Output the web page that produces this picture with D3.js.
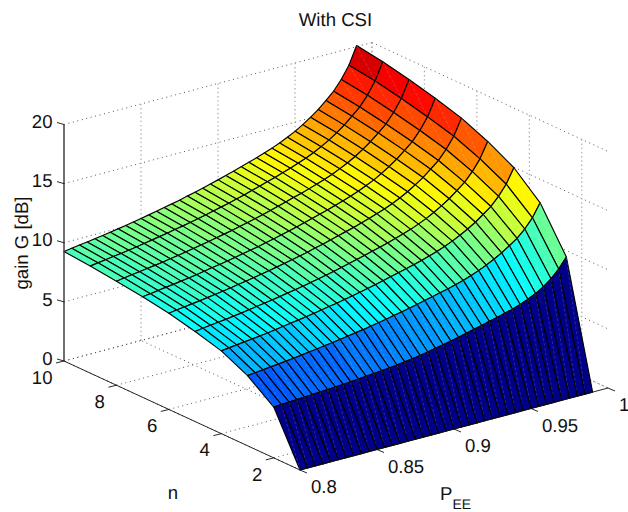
<!DOCTYPE html>
<html>
<head>
<meta charset="utf-8">
<script src="https://d3js.org/d3.v7.min.js"></script>
<style>
  body { margin: 0; background: #fff; }
  text { font-family: "Liberation Sans", Arial, sans-serif; font-size: 18.6px; fill: #111; text-rendering: geometricPrecision; }
  .face { stroke: #000; stroke-width: 1.15; stroke-linejoin: round; }
  .diag { stroke: #fff; stroke-opacity: 0.2; stroke-width: 0.8; stroke-dasharray: 3 2; }
  .grid { fill: none; stroke: #555; stroke-width: 1; stroke-dasharray: 1 3.6; }
  .gridv { fill: none; stroke: #aaa; stroke-width: 1.2; stroke-dasharray: 1.4 2.8; }
  .axis { fill: none; stroke: #111; stroke-width: 0.9; }
</style>
</head>
<body>
<script>
// tick labels
var peeTicks = [0.8, 0.85, 0.9, 0.95, 1];
var nTicks = [2, 4, 6, 8, 10];
var zTicks = [0, 5, 10, 15, 20];

// grid of the surface
var pee = [0.8, 0.805, 0.81, 0.815, 0.82, 0.825, 0.83, 0.835, 0.84, 0.845, 0.85, 0.855, 0.86, 0.865, 0.87, 0.875, 0.88, 0.885, 0.89, 0.895,
           0.9, 0.905, 0.91, 0.915, 0.92, 0.925, 0.93, 0.935, 0.94, 0.945, 0.95, 0.955, 0.96, 0.965, 0.97, 0.975, 0.98, 0.985, 0.99];
var nVals = [1, 2, 3, 4, 5, 6, 7, 8, 9, 10];

// gain in dB, one list per n
var gainN1 = [0,0,0,0,0,0,0,0,0,0,0,0,0,0,0,0,0,0,0,0,0,0,0,0,0,0,0,0,0,0,0,0,0,0,0,0,0,0,0];
var gainN2 = [4.30,4.33,4.37,4.41,4.45,4.49,4.53,4.57,4.61,4.65,4.70,4.76,4.82,4.88,4.94,5.00,5.08,5.17,5.26,5.37,5.49,5.62,5.75,5.89,6.04,6.20,6.36,6.52,6.69,6.85,7.03,7.20,7.43,7.70,8.00,8.40,8.90,9.55,10.40];
var gainN3 = [5.93,6.00,6.07,6.15,6.21,6.29,6.36,6.45,6.54,6.63,6.72,6.81,6.91,7.01,7.12,7.22,7.34,7.46,7.58,7.72,7.85,7.99,8.14,8.29,8.44,8.60,8.76,8.94,9.13,9.36,9.61,9.90,10.23,10.59,11.02,11.47,12.09,12.86,13.96];
var gainN4 = [7.00,7.08,7.16,7.24,7.31,7.40,7.48,7.58,7.68,7.77,7.87,7.98,8.09,8.20,8.32,8.43,8.57,8.70,8.83,8.98,9.13,9.29,9.45,9.62,9.78,9.95,10.14,10.34,10.55,10.80,11.08,11.40,11.76,12.16,12.64,13.14,13.83,14.68,15.90];
var gainN5 = [7.62,7.71,7.79,7.88,7.95,8.05,8.13,8.24,8.34,8.44,8.55,8.66,8.78,8.90,9.02,9.15,9.29,9.43,9.57,9.73,9.89,10.06,10.23,10.41,10.58,10.77,10.97,11.18,11.40,11.67,11.96,12.30,12.69,13.12,13.63,14.16,14.89,15.80,17.10];
var gainN6 = [8.14,8.23,8.32,8.41,8.49,8.59,8.68,8.78,8.89,9.00,9.11,9.23,9.35,9.48,9.61,9.74,9.88,10.03,10.18,10.35,10.51,10.69,10.87,11.05,11.23,11.43,11.64,11.86,12.09,12.37,12.68,13.04,13.44,13.89,14.42,14.98,15.74,16.69,18.05];
var gainN7 = [8.50,8.59,8.68,8.78,8.86,8.96,9.05,9.16,9.28,9.39,9.50,9.62,9.74,9.88,10.01,10.14,10.30,10.45,10.60,10.77,10.94,11.12,11.31,11.50,11.68,11.89,12.10,12.33,12.57,12.86,13.17,13.54,13.96,14.42,14.97,15.54,16.32,17.30,18.70];
var gainN8 = [8.80,8.89,8.99,9.08,9.17,9.27,9.36,9.48,9.59,9.71,9.83,9.95,10.08,10.21,10.35,10.48,10.64,10.80,10.95,11.13,11.30,11.49,11.68,11.88,12.06,12.27,12.49,12.72,12.97,13.27,13.59,13.97,14.40,14.87,15.43,16.02,16.82,17.83,19.26];
var gainN9 = [9.05,9.15,9.24,9.34,9.42,9.53,9.63,9.74,9.86,9.98,10.10,10.23,10.35,10.49,10.63,10.77,10.93,11.09,11.25,11.43,11.60,11.80,11.99,12.19,12.39,12.60,12.82,13.06,13.32,13.61,13.95,14.33,14.77,15.25,15.83,16.43,17.25,18.28,19.74];
var gainN10 = [9.26,9.36,9.46,9.55,9.64,9.75,9.85,9.96,10.08,10.20,10.32,10.45,10.58,10.72,10.86,11.00,11.17,11.33,11.49,11.67,11.85,12.04,12.24,12.44,12.64,12.85,13.08,13.32,13.58,13.89,14.22,14.61,15.06,15.54,16.13,16.74,17.56,18.60,20.09];
var gain = [gainN1, gainN2, gainN3, gainN4, gainN5, gainN6, gainN7, gainN8, gainN9, gainN10];

var width = 628, height = 512;

var svg = d3.select("body").append("svg")
    .attr("width", width)
    .attr("height", height);

// the box is an orthographic view: three scales, one for each edge
var xP = d3.scaleLinear().domain([0.8, 1]).range([0, 308]);
var yP = d3.scaleLinear().domain([0.8, 1]).range([0, -82]);
var xN = d3.scaleLinear().domain([1, 10]).range([0, -236]);
var yN = d3.scaleLinear().domain([1, 10]).range([0, -109]);
var yZ = d3.scaleLinear().domain([0, 20]).range([0, -236.5]);

function project(p, n, z) {
  return [300 + xP(p) + xN(n), 470 + yP(p) + yN(n) + yZ(z)];
}

// jet colormap, 64 levels, as in matlab
var jet = d3.scaleLinear()
    .domain([0, 1/8, 3/8, 5/8, 7/8, 1])
    .range(["#000080", "#0000ff", "#00ffff", "#ffff00", "#ff0000", "#800000"]);
var zMax = d3.max(gain, function(r) { return d3.max(r); });
function faceColor(z) {
  var idx = Math.min(63, Math.floor(z / zMax * 64));
  return jet((idx + 0.5) / 64);
}

var line = d3.line();

function seg(cls, a, b) {
  svg.append("path").attr("class", cls).attr("d", line([a, b]));
}

// grid lines on the two back walls and the floor
zTicks.forEach(function(z) {
  seg("grid", project(0.8, 10, z), project(1, 10, z));
  seg("grid", project(1, 10, z), project(1, 1, z));
});
[0.85, 0.9, 0.95, 1].forEach(function(p) {
  seg("gridv", project(p, 10, 0), project(p, 10, 20));
});
nTicks.forEach(function(n) {
  seg("gridv", project(1, n, 0), project(1, n, 20));
});
peeTicks.forEach(function(p) {
  seg("grid", project(p, 1, 0), project(p, 10, 0));
});
nTicks.forEach(function(n) {
  seg("grid", project(0.8, n, 0), project(1, n, 0));
});

// surface, painted from the far corner to the near one
for (var i = nVals.length - 2; i >= 0; i--) {
  for (var j = pee.length - 2; j >= 0; j--) {
    var c00 = project(pee[j], nVals[i], gain[i][j]);
    var c01 = project(pee[j + 1], nVals[i], gain[i][j + 1]);
    var c11 = project(pee[j + 1], nVals[i + 1], gain[i + 1][j + 1]);
    var c10 = project(pee[j], nVals[i + 1], gain[i + 1][j]);
    svg.append("polygon")
        .attr("class", "face")
        .attr("points", [c00, c01, c11, c10].join(" "))
        .attr("fill", faceColor(gain[i][j]));
    seg("diag", c11, c00);
  }
}

// axes
seg("axis", project(0.8, 10, 0), project(0.8, 1, 0));
seg("axis", project(0.8, 1, 0), project(1, 1, 0));
svg.append("path")
    .attr("d", line([project(0.8, 10, 0), project(0.8, 10, 20)]))
    .attr("fill", "none").attr("stroke", "#333").attr("stroke-width", 1.4);

zTicks.forEach(function(z) {
  var a = project(0.8, 10, z);
  seg("axis", a, [a[0] - 7, a[1] - 2]);
  svg.append("text").attr("x", a[0] - 11.5).attr("y", a[1] - 3).attr("dy", "0.36em")
      .attr("text-anchor", "end").text(z);
});
nTicks.forEach(function(n) {
  var a = project(0.8, n, 0);
  seg("axis", a, [a[0] - 8, a[1] + 2]);
  svg.append("text").attr("x", a[0] - 11.5).attr("y", a[1] + 16).attr("dy", "0.36em")
      .attr("text-anchor", "end").text(n);
});
peeTicks.forEach(function(p) {
  var a = project(p, 1, 0);
  seg("axis", a, [a[0] + 7, a[1] + 3]);
  svg.append("text").attr("x", a[0] + 11).attr("y", a[1] + 16.5).attr("dy", "0.36em")
      .text(p);
});

// titles
svg.append("text").attr("x", 335.5).attr("y", 26).attr("text-anchor", "middle").text("With CSI");
svg.append("text").attr("transform", "translate(28,243)rotate(-90)")
    .attr("text-anchor", "middle").text("gain G [dB]");
svg.append("text").attr("x", 173).attr("y", 499).attr("text-anchor", "middle").text("n");
var pl = svg.append("text").attr("x", 440).attr("y", 500).text("P");
pl.append("tspan").attr("dy", 9).style("font-size", "14px").text("EE");
</script>
</body>
</html>
